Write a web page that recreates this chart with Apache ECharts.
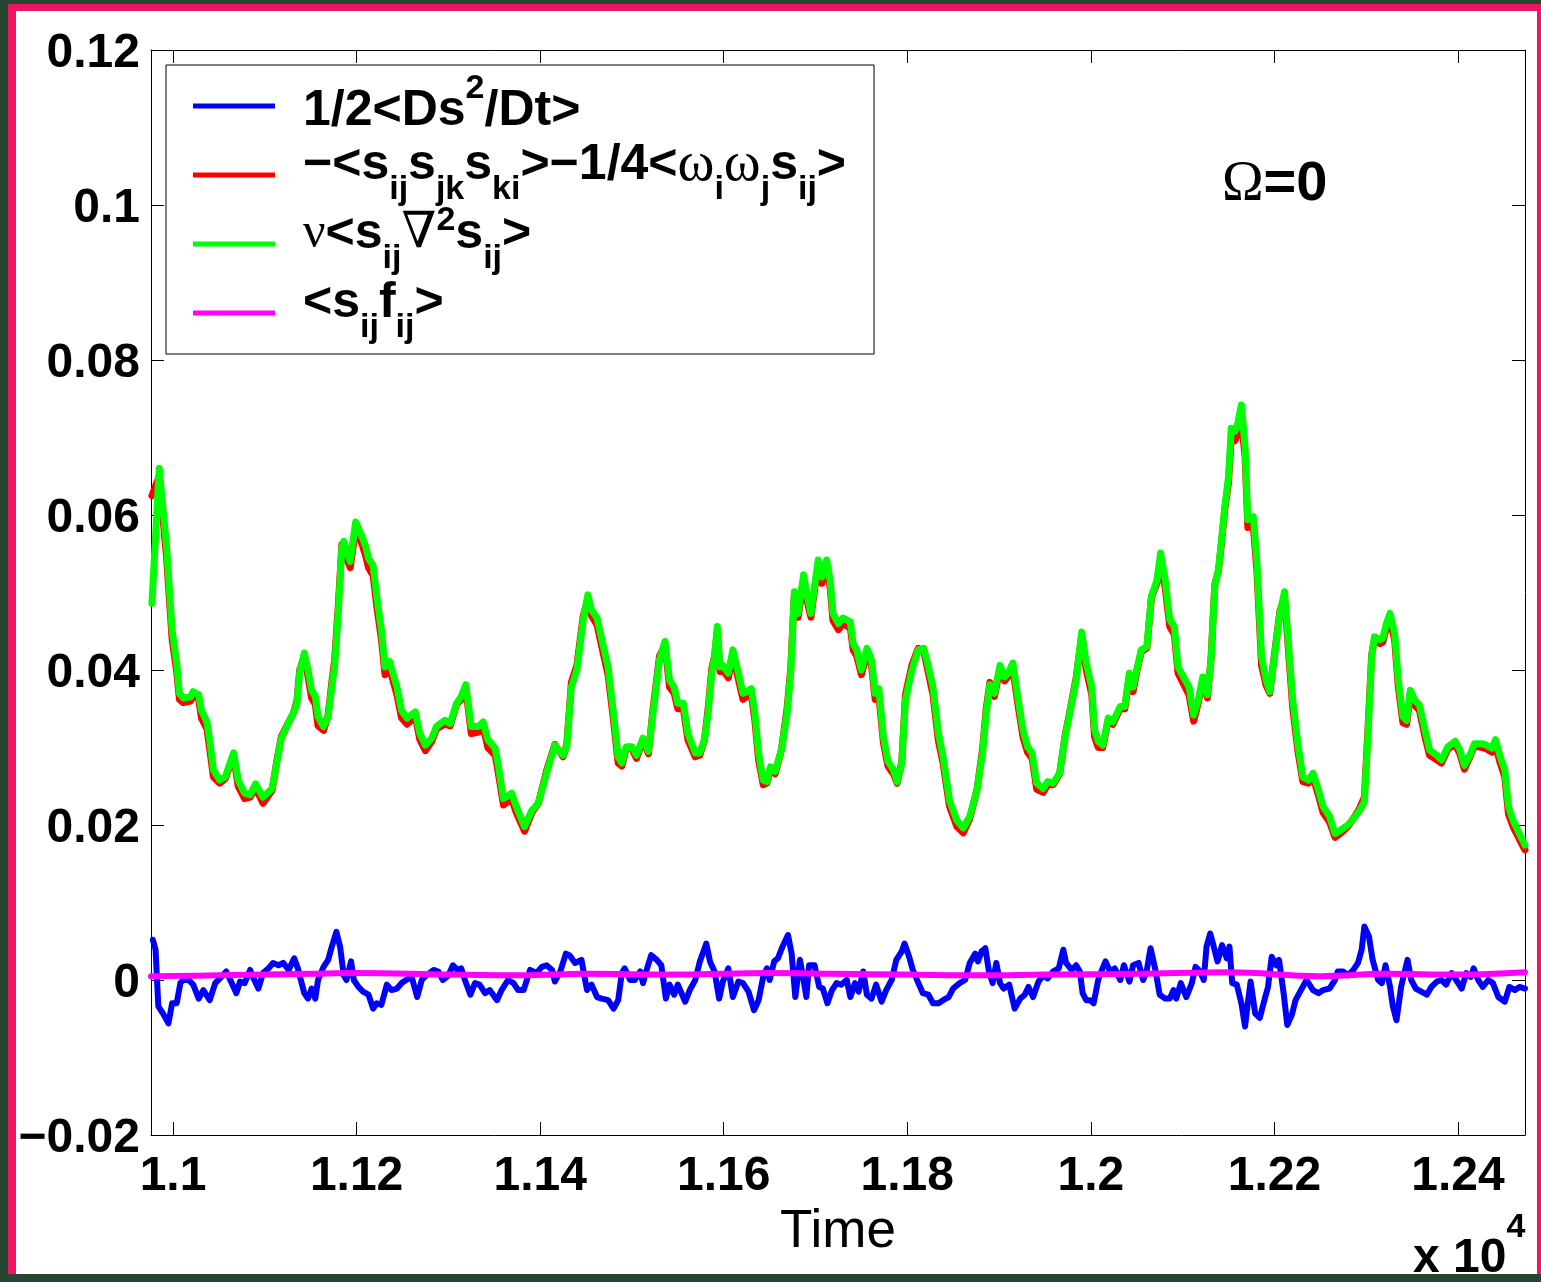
<!DOCTYPE html>
<html><head><meta charset="utf-8">
<script src="https://cdn.jsdelivr.net/npm/echarts@6/dist/echarts.min.js"></script>
<style>
html,body{margin:0;padding:0;width:1541px;height:1282px;overflow:hidden;background:#264630;}
#frame{position:absolute;left:8px;top:4px;width:1533px;height:1270px;box-sizing:border-box;background:#fff;border-left:8px solid #ee1664;border-top:7px solid #ee1664;border-right:4px solid #ee1664;}
#chart{position:absolute;left:0;top:0;width:1541px;height:1282px;}
</style></head>
<body><div id="frame"></div><div id="chart"></div>
<script>
const FONT = '"Liberation Sans", Arial, Helvetica, sans-serif';
const SERIF = '"Liberation Serif", "DejaVu Serif", "Times New Roman", serif';

const xTickValues = [11000, 11200, 11400, 11600, 11800, 12000, 12200, 12400];
const xTickLabels = ['1.1', '1.12', '1.14', '1.16', '1.18', '1.2', '1.22', '1.24'];
const yTickValues = [-0.02, 0, 0.02, 0.04, 0.06, 0.08, 0.1, 0.12];
const yTickLabels = ['\u22120.02', '0', '0.02', '0.04', '0.06', '0.08', '0.1', '0.12'];

const seriesNames = ['1/2<Ds^2/Dt>', '-<sij sjk ski>-1/4<wi wj sij>', 'nu<sij nabla^2 sij>', '<sij fij>'];
const seriesColors = ['#0000ff', '#ff0000', '#00ff00', '#ff00ff'];

const timeRG = [
10977,10985,10993,10999,11004,11007,11011,11019,11022,11028,
11031,11037,11040,11044,11051,11057,11066,11071,11078,11084,
11090,11098,11108,11113,11118,11124,11131,11135,11138,11143,
11147,11151,11155,11158,11164,11169,11173,11176,11180,11184,
11186,11193,11199,11206,11210,11213,11218,11222,11227,11231,
11236,11244,11249,11255,11264,11269,11275,11282,11287,11296,
11302,11309,11314,11319,11325,11333,11338,11343,11351,11354,
11360,11369,11374,11383,11391,11398,11407,11416,11425,11429,
11434,11440,11447,11452,11456,11462,11469,11474,11480,11485,
11489,11494,11500,11505,11512,11518,11523,11530,11536,11541,
11546,11550,11556,11561,11569,11574,11579,11583,11587,11590,
11593,11596,11599,11605,11610,11616,11621,11625,11630,11634,
11638,11643,11647,11651,11656,11663,11669,11673,11677,11681,
11687,11691,11695,11699,11703,11707,11712,11716,11719,11725,
11730,11738,11741,11745,11750,11756,11761,11765,11769,11774,
11779,11785,11789,11794,11798,11805,11812,11818,11823,11828,
11834,11839,11846,11854,11861,11868,11876,11882,11886,11890,
11895,11901,11906,11910,11915,11921,11926,11931,11936,11941,
11948,11953,11959,11966,11972,11977,11984,11990,11995,12001,
12004,12008,12013,12019,12024,12032,12037,12042,12046,12050,
12055,12061,12066,12072,12076,12081,12086,12091,12095,12101,
12107,12112,12117,12122,12127,12131,12135,12139,12142,12146,
12150,12153,12157,12160,12164,12168,12171,12177,12181,12186,
12191,12195,12200,12206,12211,12215,12220,12226,12231,12237,
12242,12248,12253,12260,12266,12273,12280,12288,12293,12298,
12302,12306,12309,12315,12318,12322,12326,12331,12335,12340,
12344,12348,12353,12358,12364,12369,12377,12382,12389,12397,
12402,12407,12413,12418,12426,12431,12437,12441,12446,12451,
12455,12460,12466,12471,12473
];

const green = [
0.0486,0.0660,0.0559,0.0452,0.0409,0.0370,0.0364,0.0365,0.0372,0.0368,
0.0348,0.0333,0.0310,0.0271,0.0258,0.0262,0.0293,0.0258,0.0241,0.0239,
0.0253,0.0236,0.0247,0.0280,0.0312,0.0327,0.0344,0.0357,0.0396,0.0422,
0.0400,0.0374,0.0366,0.0340,0.0327,0.0340,0.0378,0.0404,0.0473,0.0559,
0.0566,0.0540,0.0591,0.0572,0.0559,0.0544,0.0535,0.0495,0.0452,0.0404,
0.0411,0.0378,0.0348,0.0338,0.0346,0.0318,0.0303,0.0312,0.0327,0.0335,
0.0331,0.0357,0.0366,0.0381,0.0327,0.0327,0.0333,0.0310,0.0299,0.0280,
0.0234,0.0241,0.0224,0.0198,0.0219,0.0228,0.0267,0.0303,0.0290,0.0301,
0.0378,0.0400,0.0465,0.0497,0.0477,0.0467,0.0430,0.0404,0.0344,0.0288,
0.0280,0.0301,0.0301,0.0290,0.0312,0.0295,0.0344,0.0413,0.0437,0.0387,
0.0378,0.0357,0.0357,0.0318,0.0293,0.0293,0.0310,0.0344,0.0396,0.0417,
0.0456,0.0404,0.0406,0.0396,0.0426,0.0396,0.0370,0.0372,0.0376,0.0344,
0.0293,0.0258,0.0256,0.0275,0.0269,0.0297,0.0344,0.0396,0.0501,0.0473,
0.0523,0.0495,0.0473,0.0508,0.0542,0.0520,0.0542,0.0516,0.0473,0.0460,
0.0467,0.0462,0.0434,0.0426,0.0400,0.0428,0.0413,0.0370,0.0376,0.0314,
0.0282,0.0271,0.0256,0.0280,0.0361,0.0400,0.0426,0.0428,0.0404,0.0378,
0.0318,0.0288,0.0232,0.0206,0.0196,0.0211,0.0245,0.0293,0.0344,0.0381,
0.0370,0.0406,0.0391,0.0396,0.0409,0.0361,0.0323,0.0301,0.0293,0.0254,
0.0247,0.0256,0.0254,0.0267,0.0314,0.0344,0.0387,0.0449,0.0409,0.0378,
0.0323,0.0308,0.0303,0.0338,0.0333,0.0353,0.0353,0.0396,0.0378,0.0400,
0.0426,0.0430,0.0495,0.0516,0.0551,0.0516,0.0465,0.0456,0.0404,0.0391,
0.0378,0.0342,0.0361,0.0391,0.0368,0.0413,0.0508,0.0529,0.0563,0.0611,
0.0649,0.0712,0.0708,0.0718,0.0742,0.0688,0.0594,0.0598,0.0538,0.0417,
0.0387,0.0372,0.0417,0.0473,0.0501,0.0439,0.0361,0.0301,0.0262,0.0258,
0.0267,0.0245,0.0224,0.0211,0.0189,0.0194,0.0200,0.0211,0.0219,0.0230,
0.0318,0.0417,0.0443,0.0439,0.0441,0.0460,0.0473,0.0447,0.0387,0.0340,
0.0335,0.0374,0.0361,0.0355,0.0323,0.0297,0.0290,0.0284,0.0301,0.0308,
0.0297,0.0277,0.0290,0.0305,0.0305,0.0303,0.0299,0.0310,0.0288,0.0271,
0.0224,0.0206,0.0191,0.0179,0.0174
];

const red = [
0.0625,0.0650,0.0545,0.0440,0.0398,0.0362,0.0358,0.0360,0.0368,0.0362,
0.0338,0.0324,0.0298,0.0262,0.0254,0.0260,0.0290,0.0250,0.0234,0.0236,
0.0248,0.0228,0.0245,0.0282,0.0314,0.0328,0.0344,0.0360,0.0400,0.0418,
0.0392,0.0364,0.0356,0.0328,0.0322,0.0342,0.0384,0.0412,0.0482,0.0562,
0.0562,0.0532,0.0582,0.0562,0.0547,0.0532,0.0522,0.0482,0.0440,0.0394,
0.0402,0.0368,0.0338,0.0330,0.0340,0.0310,0.0296,0.0308,0.0324,0.0330,
0.0328,0.0356,0.0362,0.0376,0.0318,0.0320,0.0326,0.0300,0.0290,0.0270,
0.0226,0.0234,0.0216,0.0192,0.0216,0.0228,0.0270,0.0304,0.0288,0.0304,
0.0384,0.0406,0.0470,0.0492,0.0470,0.0458,0.0420,0.0394,0.0334,0.0280,
0.0276,0.0300,0.0298,0.0286,0.0310,0.0292,0.0350,0.0418,0.0432,0.0378,
0.0370,0.0350,0.0350,0.0310,0.0288,0.0290,0.0310,0.0350,0.0402,0.0418,
0.0450,0.0398,0.0400,0.0390,0.0420,0.0388,0.0362,0.0366,0.0370,0.0334,
0.0284,0.0252,0.0254,0.0272,0.0266,0.0298,0.0350,0.0402,0.0500,0.0468,
0.0516,0.0488,0.0468,0.0504,0.0536,0.0512,0.0534,0.0506,0.0464,0.0452,
0.0460,0.0454,0.0426,0.0418,0.0394,0.0422,0.0406,0.0362,0.0368,0.0306,
0.0276,0.0266,0.0254,0.0282,0.0368,0.0406,0.0428,0.0424,0.0396,0.0368,
0.0308,0.0280,0.0224,0.0198,0.0190,0.0208,0.0246,0.0298,0.0350,0.0384,
0.0366,0.0402,0.0386,0.0392,0.0402,0.0352,0.0314,0.0294,0.0286,0.0246,
0.0242,0.0252,0.0252,0.0266,0.0316,0.0346,0.0390,0.0444,0.0400,0.0368,
0.0314,0.0300,0.0300,0.0336,0.0330,0.0350,0.0350,0.0394,0.0372,0.0398,
0.0424,0.0428,0.0494,0.0512,0.0542,0.0506,0.0456,0.0446,0.0396,0.0382,
0.0368,0.0334,0.0358,0.0386,0.0364,0.0416,0.0510,0.0528,0.0560,0.0608,
0.0642,0.0700,0.0696,0.0706,0.0720,0.0676,0.0584,0.0586,0.0526,0.0406,
0.0380,0.0370,0.0420,0.0476,0.0494,0.0430,0.0350,0.0292,0.0256,0.0254,
0.0262,0.0238,0.0216,0.0204,0.0184,0.0190,0.0198,0.0212,0.0222,0.0236,
0.0326,0.0420,0.0440,0.0434,0.0436,0.0454,0.0466,0.0438,0.0378,0.0332,
0.0330,0.0370,0.0354,0.0348,0.0314,0.0290,0.0284,0.0280,0.0298,0.0304,
0.0292,0.0272,0.0288,0.0302,0.0300,0.0298,0.0294,0.0302,0.0280,0.0262,
0.0214,0.0198,0.0184,0.0172,0.0168
];

const timeBlue = [
10978,10981,10984,10989,10995,10999,11004,11008,11011,11017,
11022,11028,11033,11040,11046,11051,11058,11064,11069,11073,
11078,11084,11087,11093,11098,11104,11109,11115,11120,11126,
11132,11136,11143,11147,11151,11155,11158,11164,11169,11173,
11178,11182,11186,11189,11194,11197,11202,11207,11213,11218,
11222,11227,11233,11238,11244,11249,11254,11260,11266,11271,
11276,11284,11289,11294,11300,11305,11310,11314,11318,11324,
11329,11334,11340,11345,11353,11358,11365,11371,11376,11382,
11389,11396,11402,11407,11413,11416,11422,11428,11432,11438,
11445,11451,11456,11462,11467,11474,11480,11485,11489,11492,
11498,11503,11509,11512,11516,11521,11527,11532,11537,11541,
11546,11550,11558,11563,11569,11574,11578,11581,11585,11590,
11595,11599,11605,11610,11616,11621,11627,11633,11638,11643,
11647,11650,11655,11659,11664,11670,11674,11678,11683,11687,
11690,11693,11699,11704,11708,11713,11718,11723,11728,11734,
11738,11743,11747,11752,11756,11761,11766,11772,11777,11783,
11788,11794,11797,11802,11806,11812,11817,11823,11828,11834,
11839,11845,11850,11857,11863,11868,11874,11877,11881,11885,
11889,11893,11897,11901,11905,11911,11917,11923,11928,11932,
11937,11943,11948,11953,11959,11965,11970,11973,11979,11984,
11988,11991,11995,11999,12003,12008,12012,12016,12021,12026,
12032,12036,12042,12046,12052,12057,12061,12065,12070,12075,
12081,12086,12090,12093,12098,12104,12110,12114,12119,12123,
12126,12130,12133,12138,12143,12148,12151,12154,12159,12164,
12168,12171,12174,12179,12184,12190,12193,12197,12202,12205,
12210,12214,12219,12223,12228,12235,12242,12248,12253,12260,
12266,12269,12275,12280,12286,12291,12295,12298,12303,12307,
12313,12317,12321,12326,12329,12333,12338,12345,12349,12354,
12360,12366,12371,12377,12382,12387,12393,12398,12404,12409,
12414,12417,12422,12427,12433,12438,12444,12451,12456,12462,
12467,12473
];

const blue = [
0.0052,0.0039,-0.0034,-0.0043,-0.0056,-0.0030,-0.0030,-0.0004,0.0000,0.0000,
-0.0006,-0.0024,-0.0013,-0.0026,-0.0004,0.0002,0.0011,-0.0004,-0.0017,-0.0002,
-0.0004,0.0013,0.0004,-0.0011,0.0009,0.0015,0.0022,0.0019,0.0022,0.0013,
0.0028,0.0015,-0.0017,-0.0024,-0.0011,-0.0024,0.0000,0.0017,0.0026,0.0043,
0.0062,0.0043,0.0006,0.0000,0.0024,0.0000,-0.0009,-0.0015,-0.0019,-0.0037,
-0.0030,-0.0032,-0.0006,-0.0013,-0.0011,-0.0004,0.0000,0.0004,-0.0022,0.0000,
0.0006,0.0013,0.0011,0.0000,0.0006,0.0019,0.0013,0.0015,0.0000,-0.0019,
-0.0004,-0.0006,-0.0017,-0.0013,-0.0026,-0.0013,0.0000,-0.0004,-0.0013,-0.0013,
0.0013,0.0009,0.0017,0.0019,0.0013,-0.0002,0.0011,0.0034,0.0032,0.0022,
0.0026,-0.0013,-0.0006,-0.0022,-0.0024,-0.0026,-0.0037,-0.0026,0.0009,0.0015,
0.0000,0.0000,0.0011,-0.0004,0.0013,0.0032,0.0026,0.0019,-0.0024,-0.0006,
-0.0019,-0.0006,-0.0028,-0.0013,0.0000,0.0024,0.0037,0.0047,0.0024,0.0011,
-0.0024,-0.0002,0.0015,-0.0022,-0.0002,-0.0004,-0.0015,-0.0039,-0.0026,0.0004,
0.0015,0.0000,0.0024,0.0028,0.0043,0.0058,0.0034,-0.0022,0.0026,0.0000,
-0.0022,0.0019,0.0019,-0.0009,-0.0011,-0.0030,-0.0013,-0.0004,-0.0006,0.0000,
-0.0022,-0.0004,-0.0015,0.0011,-0.0019,-0.0024,-0.0006,-0.0028,-0.0013,0.0000,
0.0026,0.0037,0.0047,0.0030,0.0013,-0.0004,-0.0017,-0.0019,-0.0030,-0.0030,
-0.0026,-0.0022,-0.0011,-0.0004,0.0000,0.0022,0.0034,0.0024,0.0037,0.0041,
0.0011,-0.0004,0.0022,-0.0004,-0.0011,-0.0006,-0.0037,-0.0024,-0.0019,-0.0009,
-0.0022,-0.0002,0.0006,0.0002,0.0011,0.0015,0.0039,0.0022,0.0013,0.0019,
0.0011,-0.0017,-0.0026,-0.0026,-0.0030,0.0000,0.0013,0.0024,0.0011,0.0015,
0.0000,0.0019,-0.0002,0.0019,0.0022,0.0000,0.0013,0.0041,0.0015,-0.0019,
-0.0024,-0.0024,-0.0013,-0.0024,-0.0004,-0.0022,-0.0004,0.0017,0.0011,0.0000,
0.0043,0.0060,0.0047,0.0024,0.0045,0.0028,0.0043,-0.0004,-0.0006,-0.0030,
-0.0060,-0.0030,-0.0002,-0.0043,-0.0049,-0.0022,-0.0009,0.0030,0.0019,0.0026,
-0.0017,-0.0058,-0.0045,-0.0026,-0.0015,0.0000,-0.0013,-0.0017,-0.0013,-0.0011,
0.0000,0.0011,0.0011,0.0006,0.0013,0.0022,0.0039,0.0069,0.0056,0.0026,
0.0000,-0.0004,0.0019,-0.0009,-0.0034,-0.0052,-0.0009,0.0026,0.0000,-0.0011,
-0.0015,-0.0019,-0.0009,-0.0002,0.0000,-0.0006,0.0009,0.0000,-0.0011,0.0009,
0.0004,0.0015,0.0000,-0.0009,0.0000,-0.0004,-0.0022,-0.0028,-0.0009,-0.0013,
-0.0009,-0.0011
];

const timeMagenta = [10976,11050,11150,11200,11300,11380,11450,11550,11650,11720,11800,11880,11950,12050,12150,12250,12320,12400,12473];
const magenta = [0.0005,0.0006,0.0008,0.0009,0.0007,0.0006,0.0008,0.0007,0.0009,0.0008,0.0007,0.0006,0.0007,0.0008,0.0010,0.0005,0.0008,0.0007,0.0010];

const legendTexts = [
  '{sp|\u200b}{m1|1/2<Ds}{sup1|2}{m1|/Dt>}',
  '{sp|\u200b}{m|\u2212<s}{sub|ij}{m|s}{sub|jk}{m|s}{sub|ki}{m|>\u22121/4<}{w|\u03c9}{sub|i}{w|\u03c9}{sub|j}{m|s}{sub|ij}{m|>}',
  '{sp|\u200b}{g|\u03bd}{m|<s}{sub|ij}{g|\u2207}{sup|2}{m|s}{sub|ij}{m|>}',
  '{sp|\u200b}{m|<s}{sub|ij}{m|f}{sub|ij}{m|>}'
];

function pairs(ts, vs) { return ts.map((t, i) => [t, vs[i]]); }
function lookup(values, labels, v) {
  for (let i = 0; i < values.length; i++) if (Math.abs(values[i] - v) < 1e-7) return labels[i];
  return '';
}

const chart = echarts.init(document.getElementById('chart'), null, {renderer: 'canvas'});

const bold = (size, extra) => Object.assign({fontSize: size, fontWeight: 'bold', fontFamily: FONT, color: '#000', lineHeight: 60}, extra || {});

const xCommon = {
  type: 'value', min: 10976, max: 12473,
  axisLine: {show: true, onZero: false, lineStyle: {color: '#000', width: 1}},
  axisTick: {show: true, inside: true, length: 13, customValues: xTickValues, lineStyle: {color: '#000', width: 1}},
  splitLine: {show: false}
};
const yCommon = {
  type: 'value', min: -0.02, max: 0.12, interval: 0.02,
  axisLine: {show: true, onZero: false, lineStyle: {color: '#000', width: 1}},
  axisTick: {show: true, inside: true, length: 13, lineStyle: {color: '#000', width: 1}},
  splitLine: {show: false}
};

const seriesValues = [pairs(timeBlue, blue), pairs(timeRG, red), pairs(timeRG, green), pairs(timeMagenta, magenta)];
const widths = [6, 7, 7, 6];

chart.setOption({
  animation: false,
  backgroundColor: 'transparent',
  grid: {left: 151, right: 16, top: 50, bottom: 147, containLabel: false},
  xAxis: [
    Object.assign({}, xCommon, {
      position: 'bottom',
      axisLabel: {show: true, customValues: xTickValues, formatter: v => lookup(xTickValues, xTickLabels, v), margin: 18, color: '#000', fontSize: 48, fontWeight: 'bold', fontFamily: FONT},
      name: 'Time', nameLocation: 'middle', nameGap: 64,
      nameTextStyle: {fontSize: 53, color: '#000', fontFamily: FONT}
    }),
    Object.assign({}, xCommon, {position: 'top', axisLabel: {show: false}})
  ],
  yAxis: [
    Object.assign({}, yCommon, {
      position: 'left',
      axisLabel: {
        show: true, margin: 11, color: '#000', fontSize: 48, fontWeight: 'bold', fontFamily: FONT,
        formatter: v => '{a|' + lookup(yTickValues, yTickLabels, v) + '}',
        rich: {a: {fontSize: 48, fontWeight: 'bold', fontFamily: FONT, color: '#000', padding: [8, 0, 0, 0]}}
      }
    }),
    Object.assign({}, yCommon, {position: 'right', axisLabel: {show: false}})
  ],
  legend: {
    show: true, orient: 'vertical', left: 166, top: 65,
    padding: [0, 28, 0, 27], itemGap: -13, itemWidth: 82, itemHeight: 5,
    icon: 'rect', selectedMode: false,
    backgroundColor: '#fff', borderColor: '#000', borderWidth: 1, borderRadius: 0,
    itemStyle: {borderWidth: 0},
    data: seriesNames,
    formatter: name => legendTexts[seriesNames.indexOf(name)],
    textStyle: {
      fontSize: 50, fontWeight: 'bold', fontFamily: FONT, color: '#000', lineHeight: 60,
      padding: [0, 0, 0, 22],
      rich: {
        sp: {width: 1, height: 82, lineHeight: 60, backgroundColor: 'rgba(255,255,255,0)', fontSize: 10},
        m1: bold(50, {padding: [10, 0, 0, 0]}),
        m: bold(50, {padding: [0, 0, 20, 0]}),
        sup1: bold(34, {padding: [0, 0, 34, 0]}),
        sup: bold(34, {padding: [0, 0, 46, 0]}),
        sub: bold(34, {padding: [30, 0, 0, 0]}),
        g: {fontSize: 50, fontWeight: 'normal', fontFamily: SERIF, color: '#000', lineHeight: 60, padding: [0, 0, 20, 0]},
        w: {fontSize: 56, fontWeight: 'normal', fontFamily: SERIF, color: '#000', lineHeight: 60, padding: [0, 0, 20, 0]}
      }
    }
  },
  graphic: [
    {
      type: 'text', x: 1222, y: 185, silent: true,
      style: {
        text: '{o|\u03a9}{b|=0}', verticalAlign: 'middle', align: 'left',
        rich: {
          o: {fontSize: 56, fontWeight: 'normal', fontFamily: SERIF, fill: '#000'},
          b: {fontSize: 56, fontWeight: 'bold', fontFamily: FONT, fill: '#000'}
        }
      }
    },
    {
      type: 'text', x: 1413, y: 1259, silent: true,
      style: {
        text: '{m|x 10}{s|4}', verticalAlign: 'middle', align: 'left',
        rich: {
          m: {fontSize: 48, fontWeight: 'bold', fontFamily: FONT, fill: '#000', lineHeight: 60},
          s: {fontSize: 34, fontWeight: 'bold', fontFamily: FONT, fill: '#000', lineHeight: 60, padding: [0, 0, 62, 0]}
        }
      }
    }
  ],
  series: seriesNames.map((name, i) => ({
    type: 'line', name: name, xAxisIndex: 0, yAxisIndex: 0,
    data: seriesValues[i],
    symbol: 'none', showSymbol: false, smooth: i === 3 ? 0.4 : false,
    lineStyle: {color: seriesColors[i], width: widths[i], join: 'round', cap: 'round'},
    itemStyle: {color: seriesColors[i]},
    emphasis: {disabled: true}, silent: true, z: 2 + i
  }))
});
</script></body></html>
